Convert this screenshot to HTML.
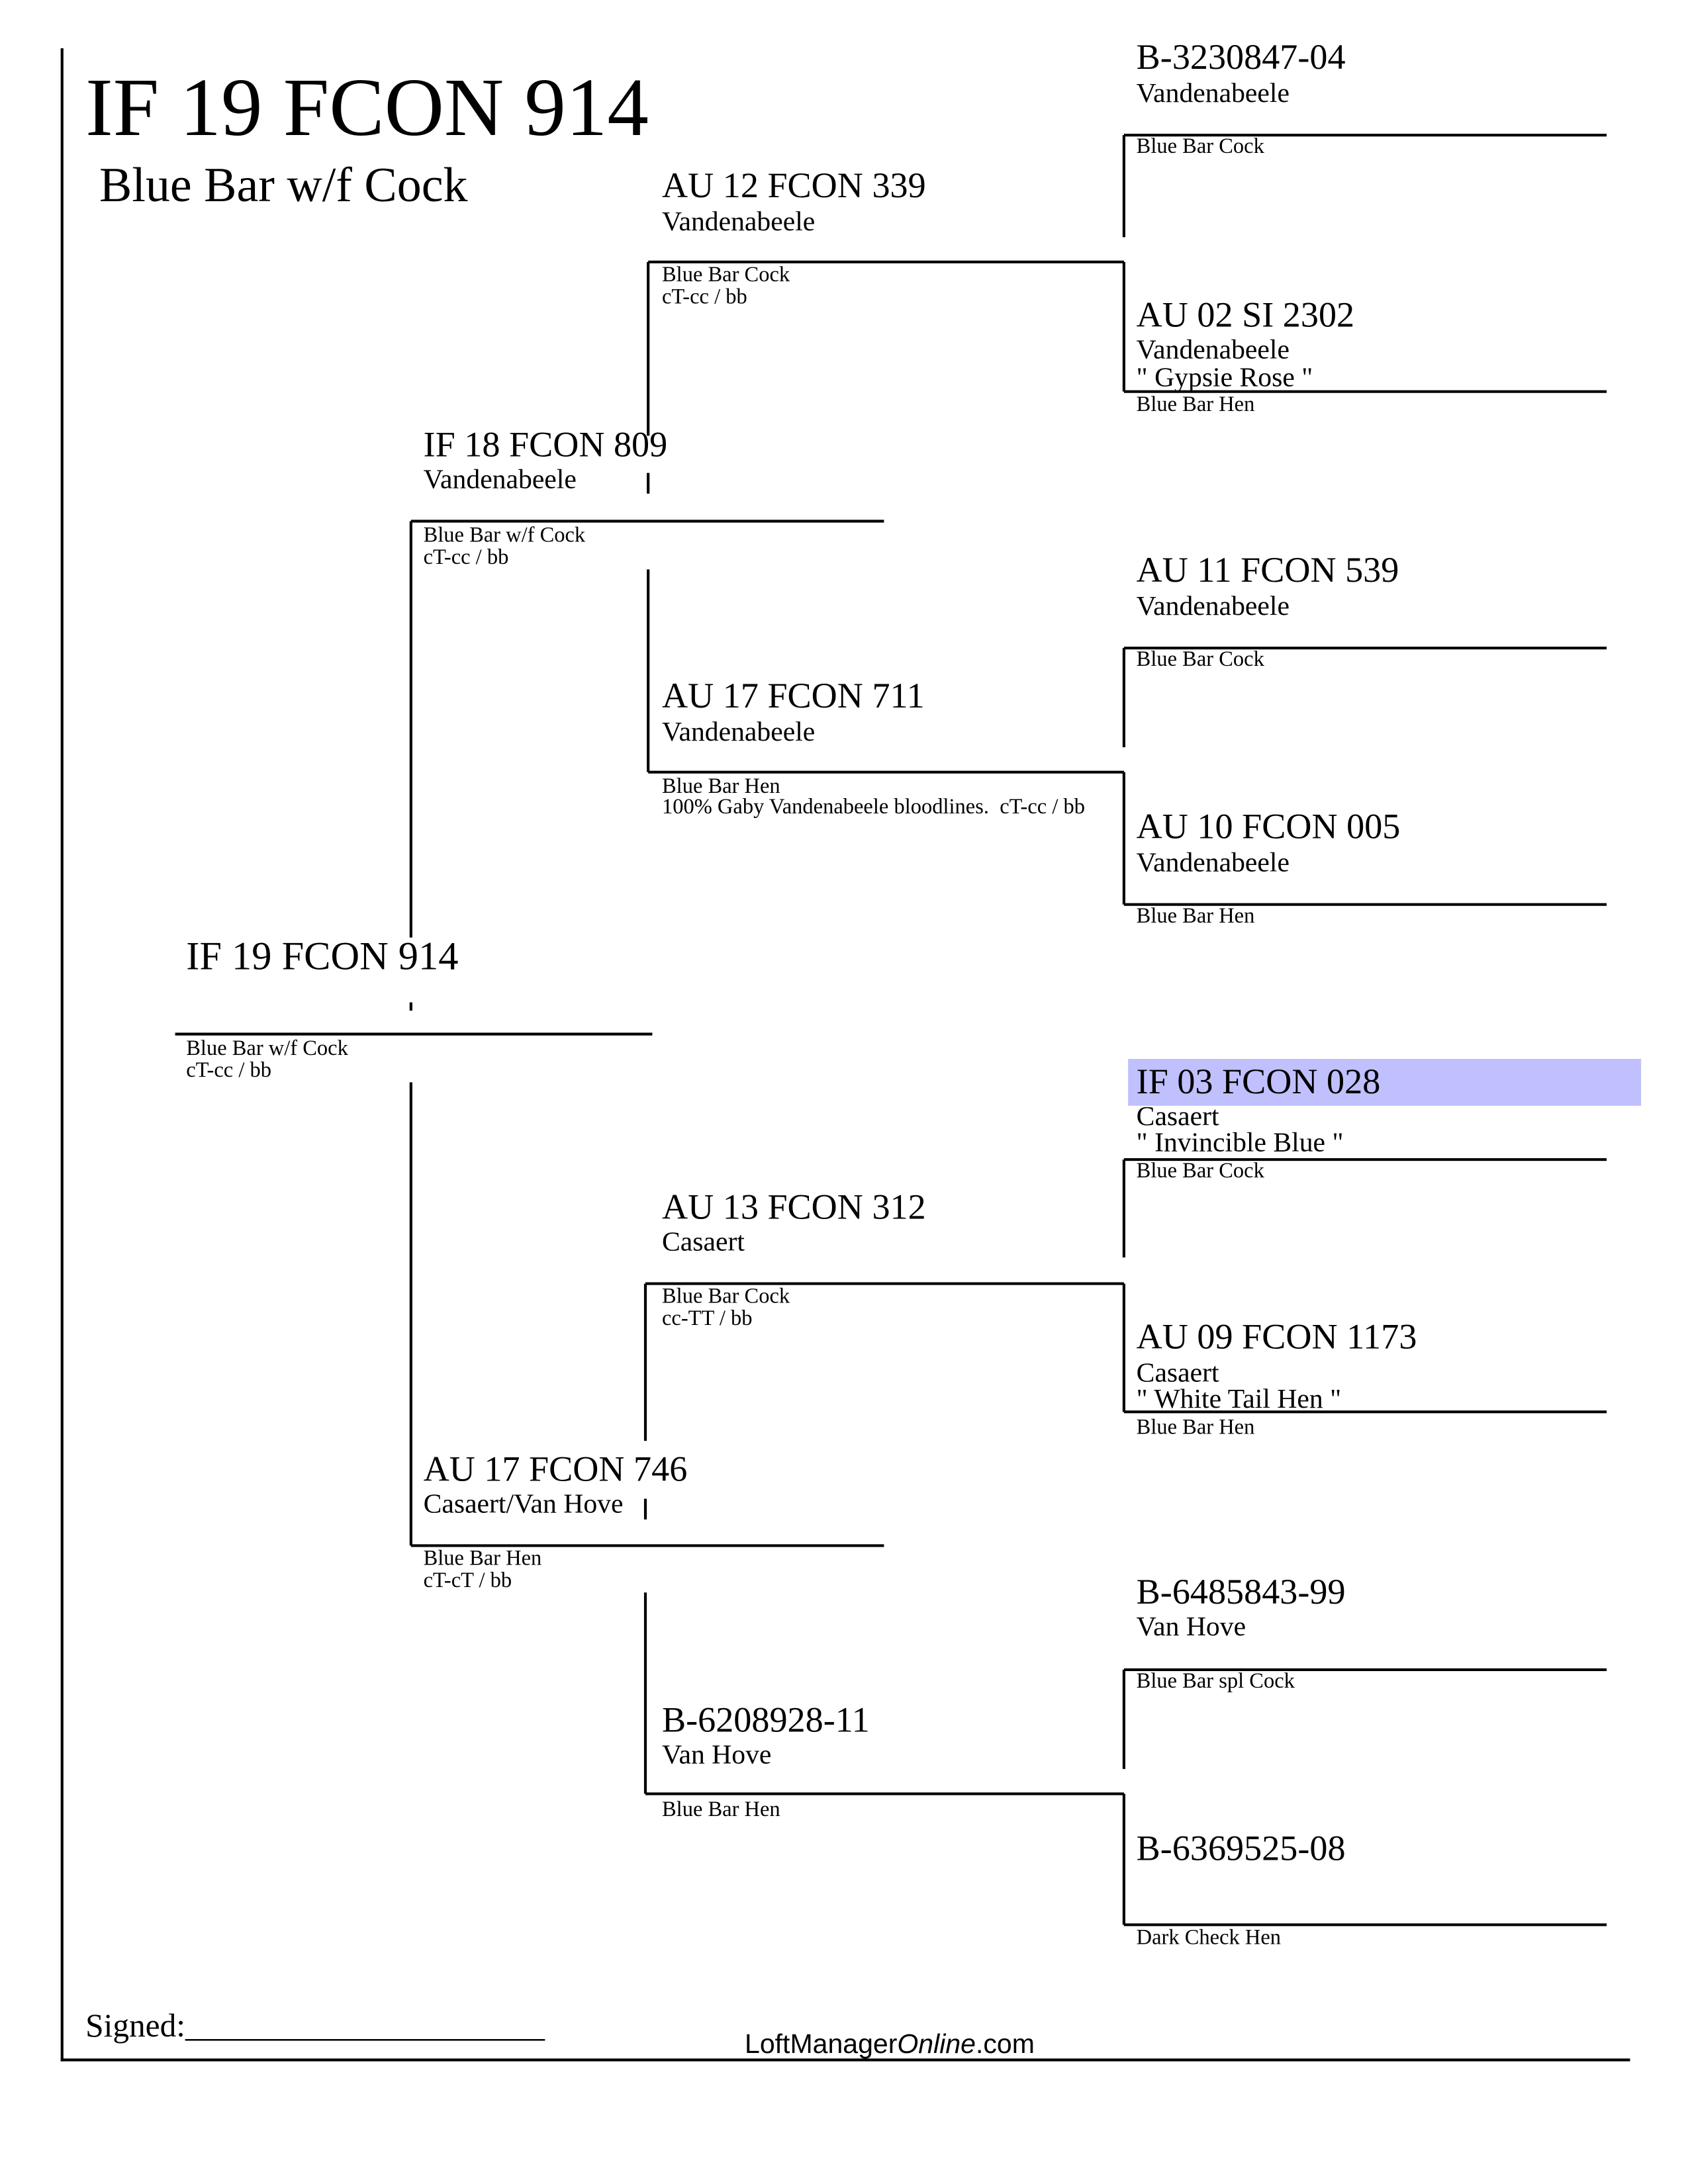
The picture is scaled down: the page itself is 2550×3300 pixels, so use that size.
<!DOCTYPE html>
<html><head><meta charset="utf-8"><style>
html,body{margin:0;padding:0;background:#fff}
svg{display:block}
text{font-family:"Liberation Serif",serif;fill:#000}
.id{font-size:26px}
.br{font-size:20px}
.sm{font-size:15.6px}
</style></head><body>
<svg width="2550" height="3300" viewBox="0 0 1224 1584" xmlns="http://www.w3.org/2000/svg">
<g stroke="#000" stroke-width="2" fill="none">
<line x1="45" y1="35" x2="45" y2="1495"/>
<line x1="44" y1="1494" x2="1182" y2="1494"/>
<line x1="127" y1="750" x2="473" y2="750"/>
<line x1="298" y1="378" x2="298" y2="680"/>
<line x1="298" y1="727" x2="298" y2="733"/>
<line x1="298" y1="785" x2="298" y2="1121"/>
<line x1="298" y1="378" x2="641" y2="378"/>
<line x1="298" y1="1121" x2="641" y2="1121"/>
<line x1="470" y1="190" x2="470" y2="316"/>
<line x1="470" y1="343" x2="470" y2="358"/>
<line x1="470" y1="413" x2="470" y2="560"/>
<line x1="468" y1="931" x2="468" y2="1045"/>
<line x1="468" y1="1087" x2="468" y2="1102"/>
<line x1="468" y1="1155" x2="468" y2="1301"/>
<line x1="470" y1="190" x2="815" y2="190"/>
<line x1="470" y1="560" x2="815" y2="560"/>
<line x1="468" y1="931" x2="815" y2="931"/>
<line x1="468" y1="1301" x2="815" y2="1301"/>
<line x1="815" y1="98" x2="815" y2="172"/><line x1="815" y1="190" x2="815" y2="284"/>
<line x1="815" y1="470" x2="815" y2="542"/><line x1="815" y1="560" x2="815" y2="656"/>
<line x1="815" y1="841" x2="815" y2="912"/><line x1="815" y1="931" x2="815" y2="1024"/>
<line x1="815" y1="1211" x2="815" y2="1283"/><line x1="815" y1="1301" x2="815" y2="1396"/>
<line x1="815" y1="98" x2="1165" y2="98"/>
<line x1="815" y1="284" x2="1165" y2="284"/>
<line x1="815" y1="470" x2="1165" y2="470"/>
<line x1="815" y1="656" x2="1165" y2="656"/>
<line x1="815" y1="841" x2="1165" y2="841"/>
<line x1="815" y1="1024" x2="1165" y2="1024"/>
<line x1="815" y1="1211" x2="1165" y2="1211"/>
<line x1="815" y1="1396" x2="1165" y2="1396"/>
</g>
<rect x="818" y="768" width="372" height="34" fill="#c0c0ff"/>

<text x="62" y="98" style="font-size:60px">IF 19 FCON 914</text>
<text x="72" y="146" style="font-size:35.5px">Blue Bar w/f Cock</text>

<text x="135" y="703" style="font-size:29px">IF 19 FCON 914</text>
<text class="sm" x="135" y="765">Blue Bar w/f Cock</text>
<text class="sm" x="135" y="781">cT-cc / bb</text>

<text class="id" x="307" y="331">IF 18 FCON 809</text>
<text class="br" x="307" y="354">Vandenabeele</text>
<text class="sm" x="307" y="393">Blue Bar w/f Cock</text>
<text class="sm" x="307" y="409">cT-cc / bb</text>

<text class="id" x="307" y="1074">AU 17 FCON 746</text>
<text class="br" x="307" y="1097">Casaert/Van Hove</text>
<text class="sm" x="307" y="1135">Blue Bar Hen</text>
<text class="sm" x="307" y="1151">cT-cT / bb</text>

<text class="id" x="480" y="143">AU 12 FCON 339</text>
<text class="br" x="480" y="167">Vandenabeele</text>
<text class="sm" x="480" y="204">Blue Bar Cock</text>
<text class="sm" x="480" y="220">cT-cc / bb</text>

<text class="id" x="480" y="513">AU 17 FCON 711</text>
<text class="br" x="480" y="537">Vandenabeele</text>
<text class="sm" x="480" y="575">Blue Bar Hen</text>
<text class="sm" x="480" y="590" xml:space="preserve">100% Gaby Vandenabeele bloodlines.  cT-cc / bb</text>

<text class="id" x="480" y="884">AU 13 FCON 312</text>
<text class="br" x="480" y="907">Casaert</text>
<text class="sm" x="480" y="945">Blue Bar Cock</text>
<text class="sm" x="480" y="961">cc-TT / bb</text>

<text class="id" x="480" y="1256">B-6208928-11</text>
<text class="br" x="480" y="1279">Van Hove</text>
<text class="sm" x="480" y="1317">Blue Bar Hen</text>

<text class="id" x="824" y="50">B-3230847-04</text>
<text class="br" x="824" y="74">Vandenabeele</text>
<text class="sm" x="824" y="111">Blue Bar Cock</text>

<text class="id" x="824" y="237">AU 02 SI 2302</text>
<text class="br" x="824" y="260">Vandenabeele</text>
<text class="br" x="824" y="280" xml:space="preserve">" Gypsie Rose "</text>
<text class="sm" x="824" y="298">Blue Bar Hen</text>

<text class="id" x="824" y="422">AU 11 FCON 539</text>
<text class="br" x="824" y="446">Vandenabeele</text>
<text class="sm" x="824" y="483">Blue Bar Cock</text>

<text class="id" x="824" y="608">AU 10 FCON 005</text>
<text class="br" x="824" y="632">Vandenabeele</text>
<text class="sm" x="824" y="669">Blue Bar Hen</text>

<text class="id" x="824" y="793">IF 03 FCON 028</text>
<text class="br" x="824" y="816">Casaert</text>
<text class="br" x="824" y="835" xml:space="preserve">" Invincible Blue "</text>
<text class="sm" x="824" y="854">Blue Bar Cock</text>

<text class="id" x="824" y="978">AU 09 FCON 1173</text>
<text class="br" x="824" y="1002">Casaert</text>
<text class="br" x="824" y="1021" xml:space="preserve">" White Tail Hen "</text>
<text class="sm" x="824" y="1040">Blue Bar Hen</text>

<text class="id" x="824" y="1163">B-6485843-99</text>
<text class="br" x="824" y="1186">Van Hove</text>
<text class="sm" x="824" y="1224">Blue Bar spl Cock</text>

<text class="id" x="824" y="1349">B-6369525-08</text>
<text class="sm" x="824" y="1410">Dark Check Hen</text>

<text x="62" y="1477" style="font-size:23.7px">Signed:______________________</text>
<text x="540" y="1489" style="font-size:19.7px;font-family:'Liberation Sans',sans-serif">LoftManager<tspan font-style="italic">Online</tspan>.com</text>
</svg>
</body></html>
